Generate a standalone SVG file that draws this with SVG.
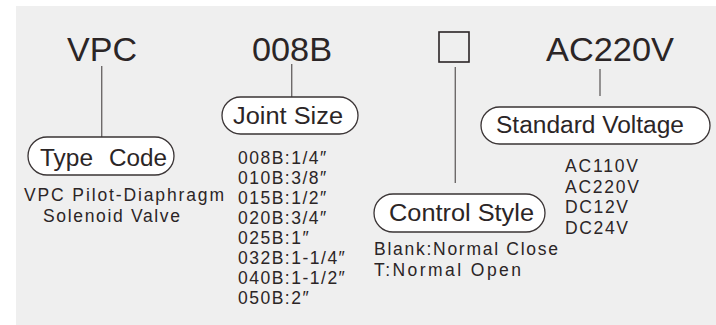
<svg xmlns="http://www.w3.org/2000/svg" width="716" height="325" viewBox="0 0 716 325">
<style>
.big{font-family:"Liberation Sans",Arial,sans-serif;font-size:34px;fill:#2b2526}
.pt{font-family:"Liberation Sans",Arial,sans-serif;font-size:23.5px;fill:#2b2526}
.sm{font-family:"Liberation Sans",Arial,sans-serif;font-size:17.5px;fill:#2b2526}
.pill{fill:#ffffff;stroke:#3a3435;stroke-width:1.3}
.ln{stroke:#6e6a6a;stroke-width:1.4;fill:none}
</style>
<rect x="0" y="0" width="716" height="325" fill="#ffffff"/>
<rect x="16" y="6" width="700" height="319" fill="#efefef"/>
<g id="connectors">
<line class="ln" x1="101.7" y1="66" x2="101.7" y2="137"/>
<line class="ln" x1="291.7" y1="64" x2="291.7" y2="97"/>
<line class="ln" x1="455.3" y1="67" x2="455.3" y2="183"/>
<line class="ln" x1="600" y1="69" x2="600" y2="96"/>
</g>
<g id="vpc">
<text class="big" x="67" y="61" textLength="70" lengthAdjust="spacingAndGlyphs">VPC</text>
</g>
<g id="size-code">
<text class="big" x="252" y="61" textLength="80" lengthAdjust="spacingAndGlyphs">008B</text>
</g>
<g id="control-box">
<rect x="439" y="32" width="30" height="30" fill="none" stroke="#2b2526" stroke-width="1.6"/>
</g>
<g id="voltage-code">
<text class="big" x="546" y="61" textLength="128" lengthAdjust="spacingAndGlyphs">AC220V</text>
</g>
<g id="type-code">
<rect class="pill" x="28" y="137" width="146" height="38" rx="19"/>
<text class="pt" y="166"><tspan x="40" textLength="53" lengthAdjust="spacingAndGlyphs">Type</tspan><tspan x="109" textLength="58" lengthAdjust="spacingAndGlyphs">Code</tspan></text>
<text class="sm" x="24" y="201" textLength="200" lengthAdjust="spacing">VPC Pilot-Diaphragm</text>
<text class="sm" x="43" y="222" textLength="137" lengthAdjust="spacing">Solenoid Valve</text>
</g>
<g id="joint-size">
<rect class="pill" x="222" y="97" width="136" height="37" rx="18.5"/>
<text class="pt" x="233" y="124" textLength="110" lengthAdjust="spacingAndGlyphs">Joint Size</text>
<g class="sm">
<text x="238" y="164" letter-spacing="1.5">008B:1/4″</text>
<text x="238" y="184" letter-spacing="1.5">010B:3/8″</text>
<text x="238" y="204" letter-spacing="1.5">015B:1/2″</text>
<text x="238" y="224" letter-spacing="1.5">020B:3/4″</text>
<text x="238" y="244" letter-spacing="1.5">025B:1″</text>
<text x="238" y="264" letter-spacing="1.5">032B:1-1/4″</text>
<text x="238" y="284" letter-spacing="1.5">040B:1-1/2″</text>
<text x="238" y="304" letter-spacing="1.5">050B:2″</text>
</g>
</g>
<g id="control-style">
<rect class="pill" x="374" y="194" width="171" height="38" rx="19"/>
<text class="pt" x="389" y="221" textLength="145" lengthAdjust="spacingAndGlyphs">Control Style</text>
<text class="sm" x="374" y="255" textLength="184" lengthAdjust="spacing">Blank:Normal Close</text>
<text class="sm" x="374" y="275.5" textLength="147" lengthAdjust="spacing">T:Normal Open</text>
</g>
<g id="standard-voltage">
<rect class="pill" x="481" y="107" width="229" height="37" rx="18.5"/>
<text class="pt" x="496" y="133" textLength="188" lengthAdjust="spacingAndGlyphs">Standard Voltage</text>
<g class="sm">
<text x="565" y="172" textLength="73" lengthAdjust="spacing">AC110V</text>
<text x="565" y="192.5" textLength="74" lengthAdjust="spacing">AC220V</text>
<text x="565" y="213" textLength="63" lengthAdjust="spacing">DC12V</text>
<text x="565" y="233.5" textLength="63" lengthAdjust="spacing">DC24V</text>
</g>
</g>
</svg>
